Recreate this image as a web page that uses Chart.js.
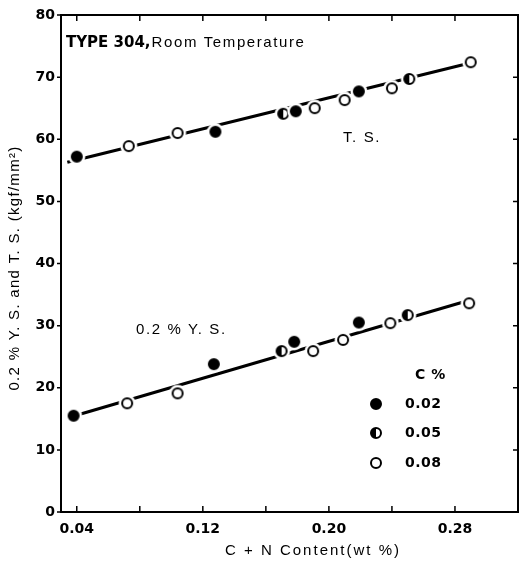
<!DOCTYPE html>
<html>
<head>
<meta charset="utf-8">
<script src="https://cdn.jsdelivr.net/npm/chart.js@4"></script>
<style>
html,body{margin:0;padding:0;background:#fff;}
canvas{display:block;}
</style>
</head>
<body>
<canvas id="c" width="530" height="565"></canvas>
<script>
// ---- data ----
const cLevels = ['0.02', '0.05', '0.08'];
const xTickValues = [0.04, 0.08, 0.12, 0.16, 0.20, 0.24, 0.28];
const xTickLabels = ['0.04', '', '0.12', '', '0.20', '', '0.28'];
const yTickValues = [0, 10, 20, 30, 40, 50, 60, 70, 80];

// T.S. points by C %
const tsC002 = [{x:0.040,y:57.2},{x:0.128,y:61.2},{x:0.179,y:64.5},{x:0.219,y:67.7}];
const tsC005 = [{x:0.171,y:64.1},{x:0.251,y:69.7}];
const tsC008 = [{x:0.073,y:58.9},{x:0.104,y:61.0},{x:0.191,y:65.0},{x:0.210,y:66.3},{x:0.240,y:68.2},{x:0.290,y:72.4}];
// 0.2% Y.S. points by C %
const ysC002 = [{x:0.038,y:15.5},{x:0.127,y:23.8},{x:0.178,y:27.4},{x:0.219,y:30.5}];
const ysC005 = [{x:0.170,y:25.9},{x:0.250,y:31.7}];
const ysC008 = [{x:0.072,y:17.5},{x:0.104,y:19.1},{x:0.190,y:25.9},{x:0.209,y:27.7},{x:0.239,y:30.4},{x:0.289,y:33.6}];
// fitted lines
const tsLine = [{x:0.034,y:56.3},{x:0.287,y:72.1}];
const ysLine = [{x:0.036,y:15.3},{x:0.288,y:34.0}];

// ---- marker images ----
function makeMarker(kind){
  const s = 20, c = document.createElement('canvas');
  c.width = s; c.height = s;
  const g = c.getContext('2d');
  const m = s/2, r = 5;
  g.fillStyle = '#fff';
  g.beginPath(); g.arc(m, m, 8.5, 0, Math.PI*2); g.fill();
  g.beginPath(); g.arc(m, m, r, 0, Math.PI*2);
  g.fillStyle = kind === 'full' ? '#000' : '#fff';
  g.fill();
  if (kind === 'half'){
    g.fillStyle = '#000';
    g.beginPath(); g.arc(m, m, r, Math.PI/2, Math.PI*1.5); g.closePath(); g.fill();
  }
  g.lineWidth = 2; g.strokeStyle = '#000';
  g.beginPath(); g.arc(m, m, r, 0, Math.PI*2); g.stroke();
  return c;
}
const markers = [makeMarker('full'), makeMarker('half'), makeMarker('open')];

const FONT = '"Liberation Sans", Arial, sans-serif';
const BFONT = '"DejaVu Sans", Verdana, sans-serif';

const decor = {
  id: 'decor',
  afterDraw(chart){
    const {ctx, chartArea: a, scales} = chart;
    const xs = scales.x, ys = scales.y;
    ctx.save();
    ctx.strokeStyle = '#000';
    ctx.lineWidth = 2;
    ctx.strokeRect(a.left, a.top, a.right - a.left, a.bottom - a.top);
    ctx.lineWidth = 1.5;
    ctx.beginPath();
    xTickValues.forEach(v => {
      const px = xs.getPixelForValue(v);
      ctx.moveTo(px, a.bottom); ctx.lineTo(px, a.bottom - 6);
      ctx.moveTo(px, a.top); ctx.lineTo(px, a.top + 6);
    });
    yTickValues.forEach(v => {
      const py = ys.getPixelForValue(v);
      ctx.moveTo(a.left - 4, py); ctx.lineTo(a.left, py);
      ctx.moveTo(a.right, py); ctx.lineTo(a.right - 5, py);
    });
    ctx.stroke();

    ctx.fillStyle = '#000';
    ctx.textBaseline = 'middle';
    // annotations
    ctx.textAlign = 'left';
    ctx.font = 'bold 15px ' + BFONT;
    ctx.letterSpacing = '0px';
    ctx.fillText('TYPE 304,', 66, 43);
    const w = ctx.measureText('TYPE 304,').width;
    ctx.font = '15px ' + FONT;
    ctx.letterSpacing = '1.6px';
    ctx.fillText('Room Temperature', 66 + w + 1, 43);
    ctx.fillText('T. S.', 343, 138);
    ctx.fillText('0.2 % Y. S.', 136, 330);

    // legend
    ctx.font = 'bold 14px ' + BFONT;
    ctx.letterSpacing = '0.5px';
    ctx.fillText('C %', 415, 375);
    const ly = [404, 433, 463];
    cLevels.forEach((lab, i) => {
      ctx.drawImage(markers[i], 376 - 10, ly[i] - 10);
      ctx.fillText(lab, 405, ly[i]);
    });

    // axis titles
    ctx.font = '15px ' + FONT;
    ctx.letterSpacing = '2px';
    ctx.textAlign = 'center';
    ctx.fillText('C + N Content(wt %)', 313, 551);
    ctx.translate(15, 268);
    ctx.rotate(-Math.PI/2);
    ctx.letterSpacing = '1.3px';
    ctx.fillText('0.2 % Y. S. and T. S. (kgf/mm²)', 0, 0);
    ctx.restore();
  }
};

function markerSet(data, i){
  return {data, showLine:false, pointStyle: markers[i], pointRadius: 6, pointHoverRadius: 6, order: 1};
}

new Chart(document.getElementById('c'), {
  type: 'scatter',
  data: {
    datasets: [
      markerSet(tsC002, 0), markerSet(tsC005, 1), markerSet(tsC008, 2),
      markerSet(ysC002, 0), markerSet(ysC005, 1), markerSet(ysC008, 2),
      {data: tsLine, showLine:true, borderColor:'#000', borderWidth:3, pointRadius:0, order:2},
      {data: ysLine, showLine:true, borderColor:'#000', borderWidth:3, pointRadius:0, order:2}
    ]
  },
  options: {
    responsive: false,
    animation: false,
    layout: {padding: {top: 15, right: 12, left: 0, bottom: 0}},
    plugins: {legend: {display:false}, tooltip: {enabled:false}},
    scales: {
      x: {
        type: 'linear', min: 0.03, max: 0.32,
        afterBuildTicks: s => { s.ticks = xTickValues.map(v => ({value: v})); },
        afterFit: s => { s.height = 53; },
        grid: {display:false, drawTicks:false, tickLength:0},
        border: {display:false},
        ticks: {
          padding: 9, color:'#000', maxRotation:0, autoSkip:false,
          font: {family: BFONT, size: 14, weight: 'bold'},
          callback: (v, i) => xTickLabels[xTickValues.indexOf(Math.round(v*100)/100)] ?? ''
        }
      },
      y: {
        type: 'linear', min: 0, max: 80,
        afterBuildTicks: s => { s.ticks = yTickValues.map(v => ({value: v})); },
        afterFit: s => { s.width = 61; },
        grid: {display:false, drawTicks:false, tickLength:0},
        border: {display:false},
        ticks: {
          padding: 6, color:'#000',
          font: {family: BFONT, size: 14, weight: 'bold'},
          callback: v => String(v)
        }
      }
    }
  },
  plugins: [decor]
});
</script>
</body>
</html>
